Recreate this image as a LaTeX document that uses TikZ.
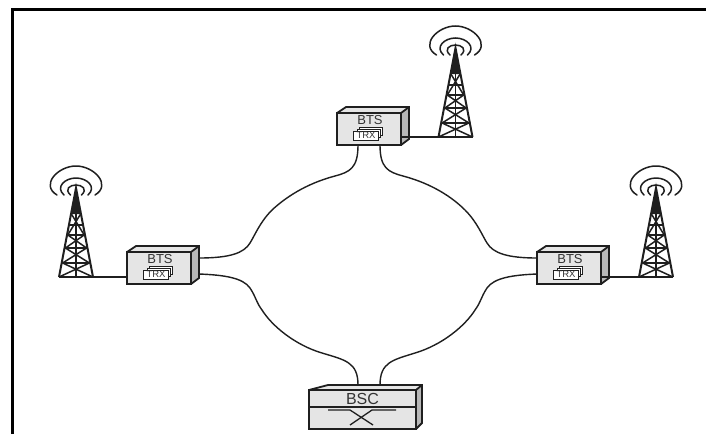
\documentclass[tikz,border=0pt]{standalone}
\usepackage{fontspec}
\setmainfont{Liberation Sans}
\usetikzlibrary{calc}
\definecolor{boxfill}{gray}{0.9}
\definecolor{sidefill}{gray}{0.72}
\definecolor{ink}{gray}{0.12}
\definecolor{txt}{gray}{0.2}
\tikzset{
  x=1pt,y=-1pt,
  frameline/.style={draw=black,line width=2.6pt},
  boxline/.style={draw=ink,line width=1.8pt,line join=miter},
  link/.style={draw=ink,line width=1.4pt},
  front/.style={draw=ink,line width=2pt,fill=boxfill,minimum width=64pt,minimum height=32pt,inner sep=0pt,outer sep=0pt},
  bsc/.style={draw=ink,line width=2pt,fill=boxfill,minimum width=107pt,minimum height=39pt,inner sep=0pt,outer sep=0pt},
  trxcard/.style={draw=ink,line width=.9pt,fill=white,minimum width=25pt,minimum height=9pt,inner sep=0pt,font=\fontsize{9.5}{9.5}\selectfont,text=txt},
  btslabel/.style={inner sep=0pt,font=\fontsize{13}{13}\selectfont,text=txt},
  bsclabel/.style={inner sep=0pt,font=\fontsize{16}{16}\selectfont,text=txt},
  towerline/.style={draw=ink,line width=1.5pt,line join=miter},
  wave/.style={draw=ink,line width=1.5pt,line cap=round},
}
\newcommand{\btsunit}[3]{% name, x, y of front top-left
  \fill[sidefill] (#2+64,#3) -- (#2+72,#3-6) -- (#2+72,#3+26) -- (#2+64,#3+32) -- cycle;
  \fill[boxfill] (#2,#3) -- (#2+9,#3-6) -- (#2+72,#3-6) -- (#2+64,#3) -- cycle;
  \draw[boxline] (#2,#3) -- (#2+9,#3-6) -- (#2+72,#3-6) -- (#2+72,#3+26) -- (#2+64,#3+32);
  \draw[boxline] (#2+64,#3) -- (#2+72,#3-6);
  \node[front,anchor=north west] (#1) at (#2,#3) {};
  \node[btslabel] (#1label) at (#2+33,#3+7.5) {BTS};
  \node[trxcard,minimum width=23pt,minimum height=8pt] (#1cardb) at (#2+34,#3+18) {};
  \node[trxcard,minimum width=23pt,minimum height=8pt] (#1cardm) at (#2+32,#3+20) {};
  \node[trxcard] (#1card) at (#2+29,#3+22.5) {TRX};
}
\newcommand{\towerunit}[3]{% name, apex x, base y
  \coordinate (#1base) at (#2-17,#3);
  \coordinate (#1baser) at (#2+17,#3);
  \coordinate (#1apex) at (#2,#3-89);
  \draw[towerline,line width=2pt] (#1base) -- (#1apex) -- (#1baser);
  \draw[towerline] (#1base) -- (#1baser);
  \draw[towerline] (#1apex) -- (#2,#3);
  \fill[ink] (#2,#3-89) -- (#2-4.6,#3-63) -- (#2+4.6,#3-63) -- cycle;
  \draw[towerline] (#2-6.4,#3-52) -- (#2+6.4,#3-52);
  \draw[towerline] (#2-8.2,#3-42) -- (#2+8.2,#3-42);
  \draw[towerline] (#2-10.6,#3-29) -- (#2+10.6,#3-29);
  \draw[towerline] (#2-13.4,#3-14) -- (#2+13.4,#3-14);
  \draw[towerline] (#2-4.6,#3-63) -- (#2+8.2,#3-42) -- (#2-10.6,#3-29) -- (#2+13.4,#3-14) -- (#2-17,#3);
  \draw[towerline] (#2+4.6,#3-63) -- (#2-8.2,#3-42) -- (#2+10.6,#3-29) -- (#2-13.4,#3-14) -- (#2+17,#3);
  \draw[wave] (#2-5.5,#3-82) .. controls (#2-12,#3-88) and (#2-6,#3-92) .. (#2,#3-92) .. controls (#2+6,#3-92) and (#2+12,#3-88) .. (#2+5.5,#3-82);
  \draw[wave] (#2-12,#3-82) .. controls (#2-21,#3-90) and (#2-11,#3-99) .. (#2,#3-99) .. controls (#2+11,#3-99) and (#2+21,#3-90) .. (#2+12,#3-82);
  \draw[wave] (#2-19,#3-82) .. controls (#2-36,#3-92) and (#2-18,#3-111) .. (#2,#3-111) .. controls (#2+18,#3-111) and (#2+36,#3-92) .. (#2+19,#3-82);
}
\begin{document}
\begin{tikzpicture}
\useasboundingbox (0,0) rectangle (706,434);
\fill[white] (0,0) rectangle (706,434);
\coordinate (fbl) at (12.5,434);
\coordinate (ftl) at (12.5,9.5);
\coordinate (ftr) at (706,9.5);
\draw[frameline] (fbl) -- (ftl) -- (ftr);

\towerunit{ttop}{455.5}{137}
\towerunit{tleft}{76}{277}
\towerunit{tright}{656}{277}

\btsunit{top}{337}{113}
\btsunit{left}{127}{252}
\btsunit{right}{537}{252}

% BSC
\fill[sidefill] (416,390) -- (422,385) -- (422,423) -- (416,429) -- cycle;
\fill[boxfill] (309,390) -- (328,385) -- (422,385) -- (416,390) -- cycle;
\draw[boxline] (309,390) -- (328,385) -- (422,385) -- (422,423) -- (416,429);
\draw[boxline] (416,390) -- (422,385);
\node[bsc,anchor=north west] (bsc) at (309,390) {};
\draw[boxline] (bsc.west |- 0,407) -- (bsc.east |- 0,407);
\node[bsclabel] (bsclabel) at (362.5,399) {BSC};
\draw[draw=ink,line width=1.3pt] (328,410) -- (350,410) -- (373,425);
\draw[draw=ink,line width=1.3pt] (396,410) -- (372,410) -- (350,425);

% links
\coordinate (lefthi) at (199,258);
\coordinate (leftlo) at (199,274);
\coordinate (righthi) at (537,258);
\coordinate (rightlo) at (537,274);
\coordinate (toptl) at (358,145);
\coordinate (toptr) at (380,145);
\coordinate (bscl) at (358,385);
\coordinate (bscr) at (380,385);
\draw[link] (toptl) .. controls (358,168) and (350,172) .. (335,176) .. controls (305,184) and (285,198) .. (272,210) .. controls (260,222) and (255,235) .. (250,243) .. controls (244,253) and (230,258) .. (lefthi);
\draw[link] (leftlo) .. controls (225,275) and (243,278) .. (250,288) .. controls (256,297) and (256,302) .. (262,310) .. controls (272,326) and (295,345) .. (322,353) .. controls (345,360) and (358,362) .. (bscl);
\draw[link] (toptr) .. controls (380,168) and (388,172) .. (403,176) .. controls (433,184) and (453,198) .. (465,210) .. controls (477,222) and (482,235) .. (487,243) .. controls (493,253) and (507,258) .. (righthi);
\draw[link] (rightlo) .. controls (512,275) and (494,278) .. (487,288) .. controls (481,297) and (481,302) .. (475,310) .. controls (465,326) and (442,345) .. (415,353) .. controls (393,360) and (380,362) .. (bscr);
% tower feeds
\draw[link] (top.east |- 0,137) -- (ttopbase);
\draw[link] (tleftbaser) -- (left.west |- 0,277);
\draw[link] (right.east |- 0,277) -- (trightbase);
\end{tikzpicture}
\end{document}
